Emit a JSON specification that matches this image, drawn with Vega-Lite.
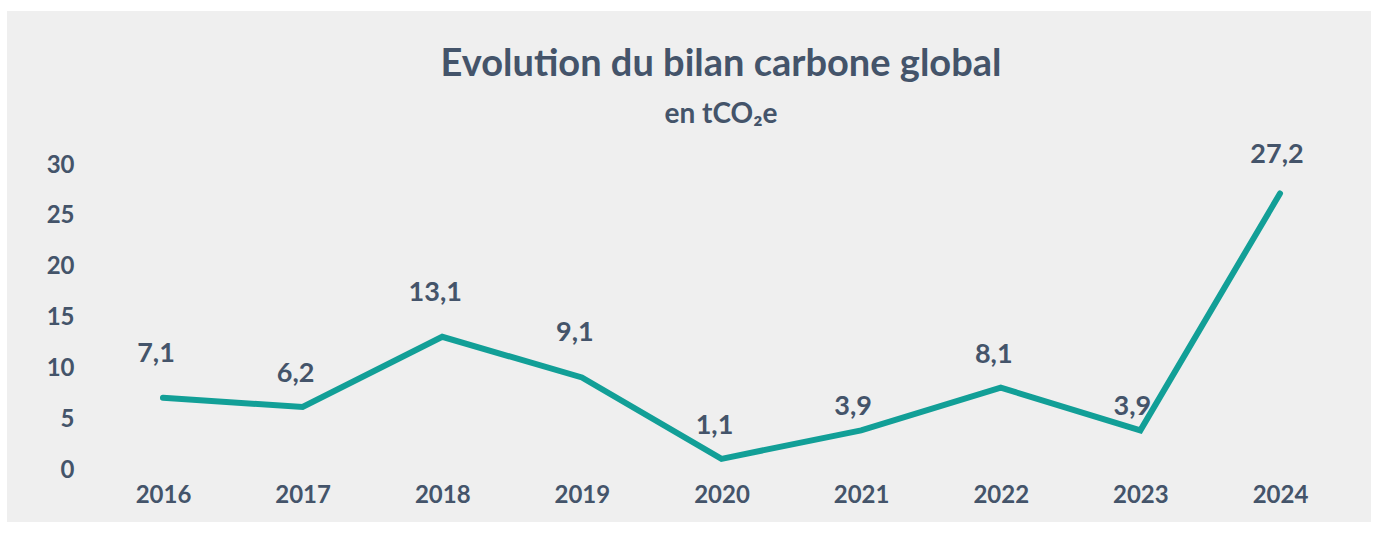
{
  "$schema": "https://vega.github.io/schema/vega-lite/v6.json",
  "width": 1364,
  "height": 511,
  "autosize": {"type": "none"},
  "padding": {"left": 7, "top": 11, "right": 7, "bottom": 12},
  "background": "white",
  "config": {
    "view": {"fill": "#efefef", "stroke": null},
    "locale": {"number": {"decimal": ",", "thousands": " ", "grouping": [3], "currency": ["", " €"]}},
    "font": "Lato"
  },
  "title": {
    "text": "Evolution du bilan carbone global",
    "subtitle": "en tCO₂e",
    "anchor": "middle",
    "frame": "group",
    "dx": 32,
    "offset": -118,
    "font": "Lato",
    "fontSize": 38,
    "fontWeight": "bold",
    "color": "#44546A",
    "subtitleFont": "Lato",
    "subtitleFontSize": 28,
    "subtitleFontWeight": "bold",
    "subtitleColor": "#44546A",
    "subtitlePadding": 17
  },
  "data": {
    "values": [
      {"year": "2016", "value": 7.1},
      {"year": "2017", "value": 6.2},
      {"year": "2018", "value": 13.1},
      {"year": "2019", "value": 9.1},
      {"year": "2020", "value": 1.1},
      {"year": "2021", "value": 3.9},
      {"year": "2022", "value": 8.1},
      {"year": "2023", "value": 3.9},
      {"year": "2024", "value": 27.2}
    ]
  },
  "encoding": {
    "x": {
      "field": "year",
      "type": "ordinal",
      "scale": {"type": "point", "range": [156, 1273], "padding": 0},
      "axis": {
        "title": null,
        "orient": "bottom",
        "offset": -20,
        "domain": false,
        "ticks": false,
        "tickSize": 0,
        "grid": false,
        "labelPadding": 0,
        "labelAngle": 0,
        "labelOverlap": false,
        "labelBaseline": "alphabetic",
        "labelFont": "Lato",
        "labelFontSize": 24,
        "labelFontWeight": "bold",
        "labelColor": "#44546A"
      }
    },
    "y": {
      "field": "value",
      "type": "quantitative",
      "scale": {"domain": [0, 30], "range": [459, 154], "nice": false, "zero": true},
      "axis": {
        "title": null,
        "orient": "left",
        "offset": -67,
        "values": [0, 5, 10, 15, 20, 25, 30],
        "domain": false,
        "ticks": false,
        "tickSize": 0,
        "grid": false,
        "labelPadding": 0,
        "labelOverlap": false,
        "labelFont": "Lato",
        "labelFontSize": 24,
        "labelFontWeight": "bold",
        "labelColor": "#44546A"
      }
    }
  },
  "layer": [
    {
      "mark": {"type": "line", "color": "#129f97", "strokeWidth": 6, "strokeCap": "round", "strokeJoin": "miter"}
    },
    {
      "transform": [{"filter": {"field": "year", "oneOf": ["2016", "2018", "2019"]}}],
      "mark": {"type": "text", "dy": -44, "dx": -7, "font": "Lato", "fontSize": 27, "fontWeight": "bold", "color": "#44546A", "baseline": "middle", "align": "center"},
      "encoding": {"text": {"field": "value", "type": "quantitative", "format": ".1f"}}
    },
    {
      "transform": [{"filter": {"field": "year", "oneOf": ["2017", "2020", "2022"]}}],
      "mark": {"type": "text", "dy": -33, "dx": -7, "font": "Lato", "fontSize": 27, "fontWeight": "bold", "color": "#44546A", "baseline": "middle", "align": "center"},
      "encoding": {"text": {"field": "value", "type": "quantitative", "format": ".1f"}}
    },
    {
      "transform": [{"filter": {"field": "year", "oneOf": ["2024"]}}],
      "mark": {"type": "text", "dy": -38, "dx": -3, "font": "Lato", "fontSize": 27, "fontWeight": "bold", "color": "#44546A", "baseline": "middle", "align": "center"},
      "encoding": {"text": {"field": "value", "type": "quantitative", "format": ".1f"}}
    },
    {
      "transform": [{"filter": {"field": "year", "oneOf": ["2021", "2023"]}}],
      "mark": {"type": "text", "dy": -23, "dx": -8, "font": "Lato", "fontSize": 27, "fontWeight": "bold", "color": "#44546A", "baseline": "middle", "align": "center"},
      "encoding": {"text": {"field": "value", "type": "quantitative", "format": ".1f"}}
    }
  ]
}
